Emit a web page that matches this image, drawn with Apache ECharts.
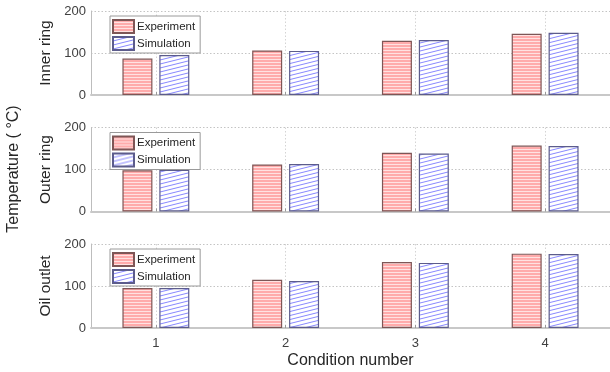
<!DOCTYPE html>
<html><head><meta charset="utf-8">
<script src="https://cdn.jsdelivr.net/npm/echarts@6/dist/echarts.min.js"></script>
<style>html,body{margin:0;padding:0;background:#fff}#c{width:610px;height:372px}</style>
</head><body><div id="c"></div>
<script>
// ---- data ----
const categories = ['1', '2', '3', '4'];
const panelNames = ['Inner ring', 'Outer ring', 'Oil outlet'];
const seriesNames = ['Experiment', 'Simulation'];
const innerExperiment = [87, 106, 129, 146];
const innerSimulation = [95, 105, 131, 148];
const outerExperiment = [98, 112, 140, 157];
const outerSimulation = [99, 113, 138, 156];
const oilExperiment = [95, 115, 157, 177];
const oilSimulation = [95, 112, 155, 176];
const yMin = 0, yMax = 200, yStep = 100;
const xTitle = 'Condition number';
const yTitle = 'Temperature ( °C)';

const panels = [
  [innerExperiment, innerSimulation],
  [outerExperiment, outerSimulation],
  [oilExperiment, oilSimulation]
];

// ---- patterns ----
function expPattern() {
  const c = document.createElement('canvas');
  c.width = 4; c.height = 3;
  const g = c.getContext('2d');
  g.fillStyle = '#ffabab'; g.fillRect(0, 0, 4, 3);
  g.fillStyle = '#ffe2e2'; g.fillRect(0, 2, 4, 1);
  return { image: c, repeat: 'repeat' };
}
function simPattern() {
  const c = document.createElement('canvas');
  c.width = 16; c.height = 4;
  const g = c.getContext('2d');
  g.fillStyle = '#ffffff'; g.fillRect(0, 0, 16, 4);
  g.strokeStyle = '#7a7aff'; g.lineWidth = 0.9;
  for (const off of [-4, 0, 4]) {
    g.beginPath(); g.moveTo(0, 4 + off); g.lineTo(16, 0 + off); g.stroke();
  }
  return { image: c, repeat: 'repeat' };
}
const EXP = expPattern(), SIM = simPattern();

const FONT = '"Liberation Sans", Arial, Helvetica, sans-serif';
const tops = [11, 127.5, 244];
const H = 84;

const grid = [], xAxis = [], yAxis = [], series = [], legend = [];
panels.forEach((p, i) => {
  grid.push({ left: 91, right: -6, top: tops[i], height: H, containLabel: false });
  xAxis.push({
    type: 'category', gridIndex: i, data: categories,
    axisLine: { show: true, lineStyle: { color: '#c8c8c8', width: 2 } },
    axisTick: { show: true, inside: true, length: 3, alignWithLabel: true, lineStyle: { color: '#999' } },
    axisLabel: { show: i === 2, color: '#404040', fontSize: 13, fontFamily: FONT, margin: 9 },
    splitLine: { show: true, alignWithLabel: true, lineStyle: { color: '#d4d4d4', type: [1.5, 2], width: 1 } },
    name: i === 2 ? xTitle : '', nameLocation: 'middle', nameGap: 25,
    nameTextStyle: { fontSize: 16, color: '#262626', fontFamily: FONT }
  });
  yAxis.push({
    type: 'value', gridIndex: i, min: yMin, max: yMax, interval: yStep,
    axisLine: { show: true, lineStyle: { color: '#bdbdbd', width: 1 } },
    axisTick: { show: false },
    axisLabel: { color: '#404040', fontSize: 13, fontFamily: FONT, margin: 5 },
    splitLine: { show: true, lineStyle: { color: '#c4c4c4', type: [1.5, 2], width: 1 } },
    name: panelNames[i], nameLocation: 'middle', nameGap: 35,
    nameTextStyle: { fontSize: 15.5, color: '#262626', fontFamily: FONT }
  });
  series.push({
    type: 'bar', name: seriesNames[0], xAxisIndex: i, yAxisIndex: i, data: p[0],
    barWidth: 30, barGap: '23%',
    itemStyle: { color: EXP, borderColor: '#7e5656', borderWidth: 1.2 }
  });
  series.push({
    type: 'bar', name: seriesNames[1], xAxisIndex: i, yAxisIndex: i, data: p[1],
    barWidth: 30, barGap: '23%',
    itemStyle: { color: SIM, borderColor: '#5c5c8c', borderWidth: 1.2 }
  });
  legend.push({
    data: seriesNames, orient: 'vertical', left: 110, top: tops[i] + 5,
    icon: 'rect', itemWidth: 21, itemHeight: 13, itemGap: 2,
    padding: [3, 5, 2, 2],
    borderColor: '#9a9a9a', borderWidth: 1, backgroundColor: '#fff',
    selectedMode: false,
    textStyle: { fontSize: 11.5, color: '#262626', fontFamily: FONT, padding: [0, 0, 0, -2] }
  });
});

const chart = echarts.init(document.getElementById('c'), null, { renderer: 'canvas' });
chart.setOption({
  animation: false,
  backgroundColor: '#fff',
  grid, xAxis, yAxis, series, legend,
  graphic: [{
    type: 'text', x: 14, y: 169, rotation: Math.PI / 2,
    style: { text: yTitle, fontSize: 16, fontFamily: FONT, fill: '#262626', textAlign: 'center', textVerticalAlign: 'middle' }
  }]
});
</script></body></html>
